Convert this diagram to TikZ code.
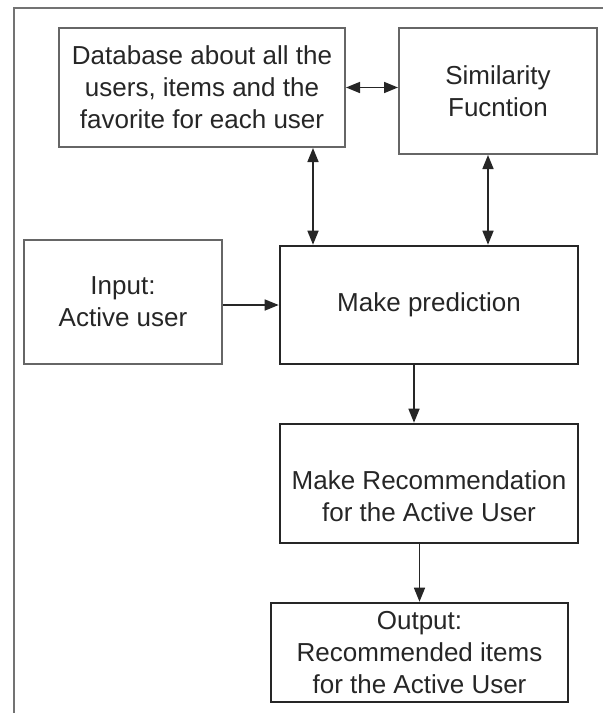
\documentclass[tikz,border=0pt]{standalone}
\usepackage{fontspec}
\setmainfont{Liberation Sans}
\usetikzlibrary{arrows.meta,positioning}

\begin{document}
\begin{tikzpicture}[
  x=0.5pt, y=-0.5pt,
  >={Triangle[length=7pt, width=5.5pt]},
  box/.style={draw=black!60, line width=1pt, align=center,
    inner xsep=3pt, inner ysep=1pt, text=black!85,
    font=\fontsize{13}{16}\selectfont},
  mainbox/.style={box, draw=black!85, line width=1.3pt},
  arrow/.style={->, line width=0.8pt, draw=black!85},
  darrow/.style={arrow, <->},
  frame/.style={draw=black!55, line width=1.2pt}
]
\useasboundingbox (0,0) rectangle (603,713);

% outer frame (only left and top edges visible)
\draw[frame] (14,713) -- (14,8) -- (603,8);

\node[box, minimum width=143pt, minimum height=59.5pt] (db) at (202,87.5)
  {Database about all the\\users, items and the\\favorite for each user};
\node[box, minimum width=99pt, minimum height=63pt] (sim) at (498,91)
  {Similarity\\Fucntion};
\node[box, minimum width=99pt, minimum height=62pt] (input) at (123,302)
  {Input:\\Active user};
\node[mainbox, minimum width=149pt, minimum height=59pt] (pred) at (429,305)
  {Make prediction};
\node[mainbox, minimum width=149pt, minimum height=59.5pt] (rec) at (429,483.5)
  {\strut\\\strut Make Recommendation\\\strut for the Active User};
\node[mainbox, minimum width=148.5pt, minimum height=49.5pt] (out) at (419.5,652.5)
  {Output:\\Recommended items\\for the Active User};

\coordinate (dbx) at (313,0);
\coordinate (simx) at (488,0);
\coordinate (predx) at (414,0);

\draw[darrow] (db.east) -- (db.east -| sim.west);
\draw[darrow] (db.south -| dbx) -- (pred.north -| dbx);
\draw[darrow] (sim.south -| simx) -- (pred.north -| simx);
\draw[arrow] (pred.west -| input.east) -- (pred.west);
\draw[arrow] (pred.south -| predx) -- (rec.north -| predx);
\draw[arrow] (rec.south -| out.north) -- (out.north);

\end{tikzpicture}
\end{document}
